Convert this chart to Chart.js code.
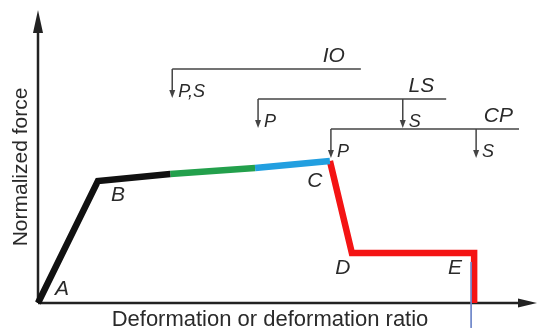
<!DOCTYPE html>
<html><head><meta charset="utf-8">
<script src="https://cdn.jsdelivr.net/npm/chart.js@4.4.0/dist/chart.umd.min.js"></script>
<style>html,body{margin:0;padding:0;background:#fff;}canvas{display:block;}</style>
</head><body>
<canvas id="c" width="540" height="328"></canvas>
<script>
// Curve segments (normalized deformation vs normalized force, 0-100)
const blackX = [0, 12.0, 26.5];
const blackY = [0, 41.6, 44.0];
const greenX = [26.5, 43.5];
const greenY = [44.0, 46.1];
const blueX = [43.5, 58.5];
const blueY = [46.1, 48.5];
const redX = [58.5, 62.9, 87.4, 87.4];
const redY = [48.5, 17.1, 17.1, 0];
const markerX = [86.8, 86.8];
const markerY = [14.0, -8.5];

// Key points
const pointLabels = ['A', 'B', 'C', 'D', 'E'];
const pointX = [0, 12.0, 58.5, 62.9, 87.4];
const pointY = [0, 41.6, 48.5, 17.1, 17.1];

// Performance levels
const levels = ['IO', 'LS', 'CP'];
const levelY = [79.9, 69.6, 59.4];
const levelStart = [26.9, 44.1, 58.7];
const levelEnd = [64.7, 81.8, 96.4];
const arrowX = [[26.9], [44.1, 73.1], [58.7, 87.8]];
const arrowText = [['P,S'], ['P', 'S'], ['P', 'S']];
const arrowDrop = 9.9;

const xTitle = 'Deformation or deformation ratio';
const yTitle = 'Normalized force';

function pts(xs, ys) { return xs.map((x, i) => ({x: x, y: ys[i]})); }

function seg(data, color, width) {
  return {data: data, borderColor: color, borderWidth: width, showLine: true,
    pointRadius: 0, fill: false, tension: 0, borderJoinStyle: 'miter',
    borderCapStyle: 'butt', clip: false};
}

const annot = {
  id: 'annot',
  beforeDatasetsDraw(chart) {
    const ctx = chart.ctx, xs = chart.scales.x, ys = chart.scales.y;
    const x0 = xs.getPixelForValue(0), y0 = ys.getPixelForValue(0);
    const xe = xs.getPixelForValue(100), yt = ys.getPixelForValue(100);
    ctx.save();
    ctx.strokeStyle = '#222'; ctx.fillStyle = '#222'; ctx.lineWidth = 2.5;
    ctx.beginPath(); ctx.moveTo(x0, y0); ctx.lineTo(xe - 12, y0); ctx.stroke();
    ctx.beginPath(); ctx.moveTo(x0, y0); ctx.lineTo(x0, yt + 14); ctx.stroke();
    ctx.beginPath(); ctx.moveTo(xe, y0); ctx.lineTo(xe - 19, y0 - 4.5); ctx.lineTo(xe - 19, y0 + 4.5); ctx.closePath(); ctx.fill();
    ctx.beginPath(); ctx.moveTo(x0, yt); ctx.lineTo(x0 - 5, yt + 23); ctx.lineTo(x0 + 5, yt + 23); ctx.closePath(); ctx.fill();

    // levels
    ctx.strokeStyle = '#444'; ctx.fillStyle = '#444'; ctx.lineWidth = 1.5;
    const nameOff = [16, 12, 6];
    levels.forEach((lv, i) => {
      const py = ys.getPixelForValue(levelY[i]);
      const pa = xs.getPixelForValue(levelStart[i]);
      const pb = xs.getPixelForValue(levelEnd[i]);
      ctx.beginPath(); ctx.moveTo(pa, py); ctx.lineTo(pb, py); ctx.stroke();
      const tipY = ys.getPixelForValue(levelY[i] - arrowDrop);
      arrowX[i].forEach((ax, j) => {
        const px = xs.getPixelForValue(ax);
        ctx.beginPath(); ctx.moveTo(px, py); ctx.lineTo(px, tipY - 6); ctx.stroke();
        ctx.beginPath(); ctx.moveTo(px, tipY); ctx.lineTo(px - 3, tipY - 8); ctx.lineTo(px + 3, tipY - 8); ctx.closePath(); ctx.fill();
        ctx.font = 'italic 18px "Liberation Sans", Arial, sans-serif';
        ctx.textAlign = 'left'; ctx.textBaseline = 'alphabetic';
        ctx.fillStyle = '#2a2a2a';
        ctx.fillText(arrowText[i][j], px + 6, tipY - 1);
        ctx.fillStyle = '#444';
      });
      ctx.font = 'italic 21px "Liberation Sans", Arial, sans-serif';
      ctx.textAlign = 'right'; ctx.fillStyle = '#2a2a2a';
      ctx.fillText(lv, pb - nameOff[i], py - 7);
      ctx.fillStyle = '#444';
    });
    ctx.restore();
  },
  afterDatasetsDraw(chart) {
    const ctx = chart.ctx, xs = chart.scales.x, ys = chart.scales.y;
    ctx.save();
    ctx.fillStyle = '#2a2a2a';
    ctx.font = 'italic 21px "Liberation Sans", Arial, sans-serif';
    ctx.textAlign = 'center'; ctx.textBaseline = 'middle';
    const off = [[24, -14], [20, 14], [-15, 20], [-9, 15], [-19, 15]];
    pointLabels.forEach((t, i) => {
      ctx.fillText(t, xs.getPixelForValue(pointX[i]) + off[i][0], ys.getPixelForValue(pointY[i]) + off[i][1]);
    });
    ctx.font = '22px "Liberation Sans", Arial, sans-serif';
    ctx.textBaseline = 'alphabetic';
    ctx.fillText(xTitle, 270, 326);
    ctx.translate(27, 167); ctx.rotate(-Math.PI / 2);
    ctx.font = '21px "Liberation Sans", Arial, sans-serif';
    ctx.fillText(yTitle, 0, 0);
    ctx.restore();
  }
};

new Chart(document.getElementById('c'), {
  type: 'scatter',
  data: {datasets: [
    seg(pts(markerX, markerY), '#6f86c9', 1),
    seg(pts(blackX, blackY), '#111', 6.5),
    seg(pts(greenX, greenY), '#23a04c', 6.5),
    seg(pts(blueX, blueY), '#229fe0', 6.5),
    seg(pts(redX, redY), '#f41414', 6.5)
  ]},
  options: {
    responsive: false, animation: false, devicePixelRatio: 1,
    layout: {padding: {left: 38, right: 3, top: 10, bottom: 25}},
    plugins: {legend: {display: false}, tooltip: {enabled: false}},
    scales: {
      x: {type: 'linear', min: 0, max: 100, display: false},
      y: {type: 'linear', min: 0, max: 100, display: false}
    }
  },
  plugins: [annot]
});
</script>
</body></html>
